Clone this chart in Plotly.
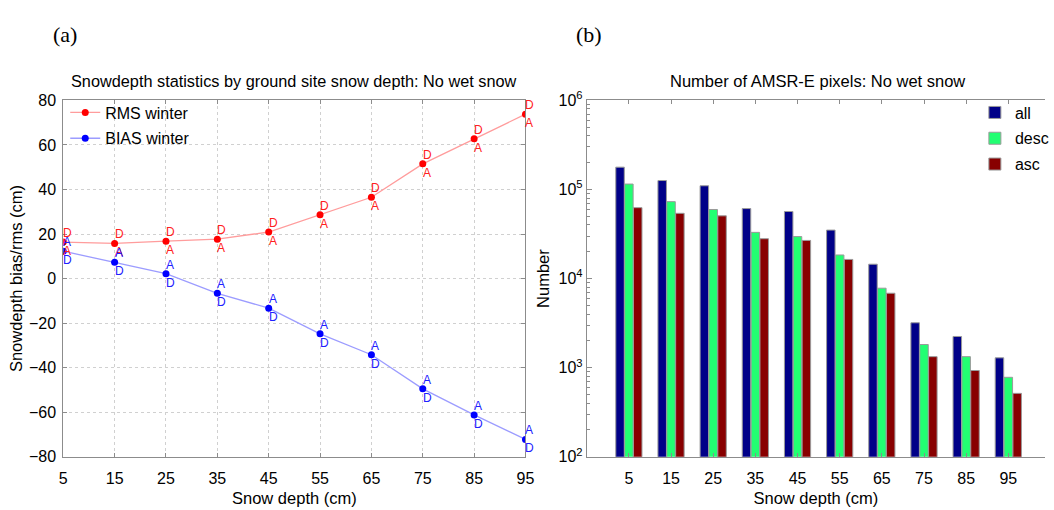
import plotly.graph_objects as go

# ---------------- data ----------------
depth = [5, 15, 25, 35, 45, 55, 65, 75, 85, 95]
rms_winter = [16.4, 15.8, 16.8, 17.7, 20.9, 28.7, 36.5, 51.5, 62.8, 73.8]
bias_winter = [12.3, 7.3, 2.2, -6.6, -13.3, -24.8, -34.2, -49.5, -61.2, -72.2]

n_all = [178000, 126000, 110000, 61000, 56600, 35000, 14500, 3190, 2240, 1290]
n_desc = [115000, 73000, 59600, 33000, 29600, 18400, 7800, 1820, 1330, 780]
n_asc = [62500, 54000, 50600, 28000, 26800, 16400, 6850, 1330, 930, 515]

left_yticks = [-80, -60, -40, -20, 0, 20, 40, 60, 80]
right_ytick_exp = [2, 3, 4, 5, 6]

FONT = "Liberation Sans, Arial, Helvetica, sans-serif"
AXC = "#8c8c8c"

fig = go.Figure()

# ---------------- panel (a) ----------------
fig.add_trace(go.Scatter(
    x=depth, y=rms_winter, mode="lines+markers", name="RMS winter",
    line=dict(color="#ff9c9c", width=1.3),
    marker=dict(color="#ff0000", size=7),
    xaxis="x", yaxis="y", legend="legend", legendgroup="r"))
fig.add_trace(go.Scatter(
    x=depth, y=bias_winter, mode="lines+markers", name="BIAS winter",
    line=dict(color="#9c9cff", width=1.3),
    marker=dict(color="#0000ff", size=7),
    xaxis="x", yaxis="y", legend="legend", legendgroup="b"))

annotations = []
for xv, yv in zip(depth, rms_winter):
    annotations.append(dict(x=xv, y=yv, xref="x", yref="y", text="D", showarrow=False,
                            xanchor="left", yanchor="middle", yshift=9, xshift=-2,
                            font=dict(family=FONT, size=12, color="#ff2020")))
    annotations.append(dict(x=xv, y=yv, xref="x", yref="y", text="A", showarrow=False,
                            xanchor="left", yanchor="middle", yshift=-9, xshift=-2,
                            font=dict(family=FONT, size=12, color="#ff2020")))
for xv, yv in zip(depth, bias_winter):
    annotations.append(dict(x=xv, y=yv, xref="x", yref="y", text="A", showarrow=False,
                            xanchor="left", yanchor="middle", yshift=9, xshift=-2,
                            font=dict(family=FONT, size=12, color="#2020ff")))
    annotations.append(dict(x=xv, y=yv, xref="x", yref="y", text="D", showarrow=False,
                            xanchor="left", yanchor="middle", yshift=-9, xshift=-2,
                            font=dict(family=FONT, size=12, color="#2020ff")))

# ---------------- panel (b) ----------------
bar_line = dict(color="#9a9a9a", width=1)
fig.add_trace(go.Bar(x=depth, y=n_all, name="all", marker=dict(color="#000088", line=bar_line),
                     xaxis="x2", yaxis="y2", legend="legend2", legendgroup="a"))
fig.add_trace(go.Bar(x=depth, y=n_desc, name="desc", marker=dict(color="#22ff72", line=bar_line),
                     xaxis="x2", yaxis="y2", legend="legend2", legendgroup="d"))
fig.add_trace(go.Bar(x=depth, y=n_asc, name="asc", marker=dict(color="#880000", line=bar_line),
                     xaxis="x2", yaxis="y2", legend="legend2", legendgroup="s"))

W, H = 1054, 510
def px_x(p): return p / W
def px_y(p): return 1 - p / H

# panel labels and titles
annotations += [
    dict(x=px_x(62), y=px_y(24), xref="paper", yref="paper", text="(a)", showarrow=False,
         xanchor="center", yanchor="middle",
         font=dict(family="Liberation Serif, Times New Roman, serif", size=22, color="black")),
    dict(x=px_x(592), y=px_y(24), xref="paper", yref="paper", text="(b)", showarrow=False,
         xanchor="center", yanchor="middle",
         font=dict(family="Liberation Serif, Times New Roman, serif", size=22, color="black")),
    dict(x=px_x(294), y=px_y(73), xref="paper", yref="paper",
         text="Snowdepth statistics by ground site snow depth: No wet snow", showarrow=False,
         xanchor="center", yanchor="middle", font=dict(family=FONT, size=16.3, color="black")),
    dict(x=px_x(824), y=px_y(73), xref="paper", yref="paper",
         text="Number of AMSR-E pixels: No wet snow", showarrow=False,
         xanchor="center", yanchor="middle", font=dict(family=FONT, size=16.5, color="black")),
]

tickfont = dict(family=FONT, size=16, color="black")
titlefont = dict(family=FONT, size=16.5, color="black")

fig.update_layout(
    width=W, height=H,
    margin=dict(l=0, r=0, t=0, b=0),
    paper_bgcolor="white", plot_bgcolor="white",
    annotations=annotations,
    barmode="group", bargap=0.37, bargroupgap=0.04,
    xaxis=dict(domain=[px_x(60), px_x(528)], range=[5, 95], tickvals=depth,
               ticks="inside", ticklen=4, tickcolor=AXC, showline=True, linecolor=AXC,
               mirror="ticks", showgrid=True, gridcolor="#d0d0d0", griddash="dot",
               gridwidth=1, zeroline=False, tickfont=tickfont, anchor="y",
               ticklabelstandoff=7,
               title=dict(text="Snow depth (cm)", font=titlefont, standoff=6)),
    yaxis=dict(domain=[px_y(464), px_y(93)], range=[-80, 80], tickvals=left_yticks,
               ticks="inside", ticklen=4, tickcolor=AXC, showline=True, linecolor=AXC,
               mirror="ticks", showgrid=True, gridcolor="#d0d0d0", griddash="dot",
               gridwidth=1, zeroline=False, tickfont=tickfont, anchor="x",
               ticklabelstandoff=3,
               title=dict(text="Snowdepth bias/rms (cm)", font=titlefont, standoff=2)),
    xaxis2=dict(domain=[px_x(590), 1.0], range=[-5, 103.7], tickvals=depth,
                ticks="inside", ticklen=4, tickcolor=AXC, showline=True, linecolor=AXC,
                mirror="ticks", showgrid=False, zeroline=False, tickfont=tickfont, anchor="y2",
                ticklabelstandoff=7,
                title=dict(text="Snow depth (cm)", font=titlefont, standoff=6)),
    yaxis2=dict(domain=[px_y(464), px_y(93)], type="log", range=[2, 6],
                tickvals=[10 ** e for e in right_ytick_exp],
                ticktext=["10<sup>%d</sup>" % e for e in right_ytick_exp],
                ticks="inside", ticklen=5, tickcolor=AXC, showline=True, linecolor=AXC,
                mirror=False, showgrid=False, zeroline=False, tickfont=tickfont, anchor="x2",
                minor=dict(ticks="inside", ticklen=3, tickcolor=AXC, dtick="D1", showgrid=False),
                title=dict(text="Number", font=titlefont, standoff=4)),
    legend=dict(x=px_x(62), y=px_y(88), xanchor="left", yanchor="top",
                bgcolor="rgba(255,255,255,0)", borderwidth=0, tracegroupgap=2,
                font=dict(family=FONT, size=16, color="black")),
    legend2=dict(x=px_x(983), y=px_y(88), xanchor="left", yanchor="top",
                 bgcolor="rgba(255,255,255,0)", borderwidth=0, tracegroupgap=2,
                 font=dict(family=FONT, size=16, color="black")),
    showlegend=True,
)

fig.write_html("out.html")
